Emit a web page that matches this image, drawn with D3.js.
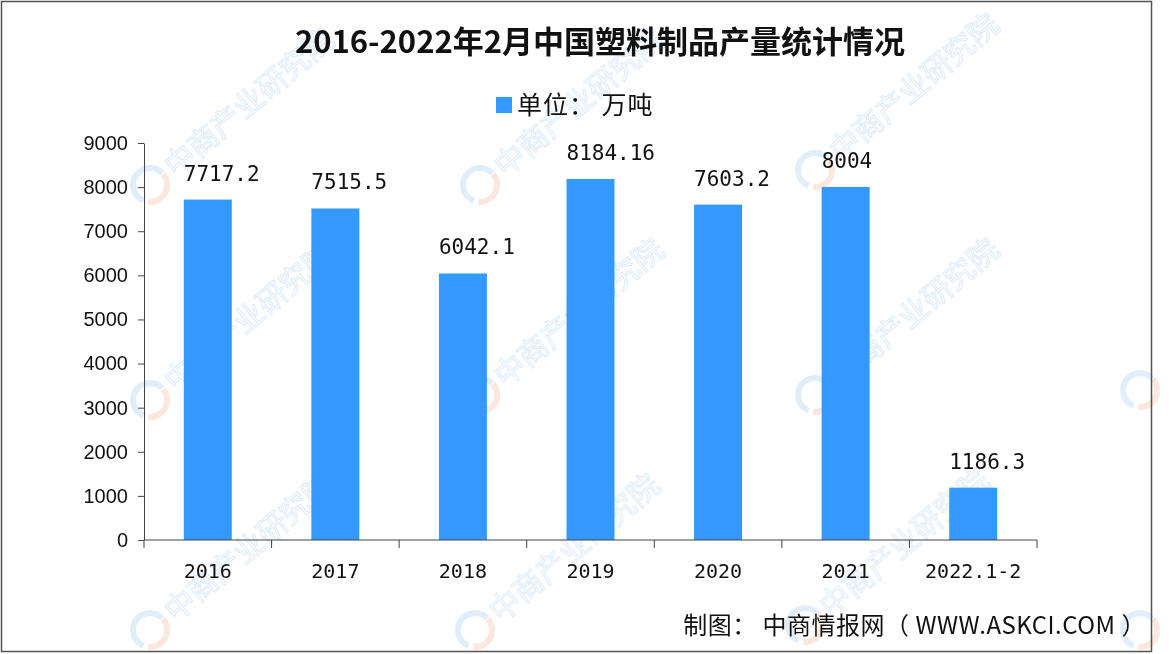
<!DOCTYPE html>
<html>
<head>
<meta charset="utf-8">
<script src="https://cdn.jsdelivr.net/npm/d3@7"></script>
<style>
  body { margin: 0; background: #fff; }
  svg { display: block; }
</style>
</head>
<body>
<div id="chart"></div>
<script>
// data
var years = ["2016", "2017", "2018", "2019", "2020", "2021", "2022.1-2"];
var output = [7717.2, 7515.5, 6042.1, 8184.16, 7603.2, 8004, 1186.3];
var outputLabels = ["7717.2", "7515.5", "6042.1", "8184.16", "7603.2", "8004", "1186.3"];
var yTicks = [0, 1000, 2000, 3000, 4000, 5000, 6000, 7000, 8000, 9000];

var W = 1170, H = 654;
var svg = d3.select("#chart").append("svg")
    .attr("width", W)
    .attr("height", H);

svg.append("rect").attr("width", W).attr("height", H).attr("fill", "#fff");

// watermark, faint (logo only where the text would run off the page)
var marks = [[150, 185, 1], [480, 185, 1], [815, 170, 1], [150, 400, 1], [480, 395, 1], [815, 395, 1], [1140, 390, 0],
             [150, 630, 1], [475, 630, 1], [805, 625, 1], [1140, 630, 0]];
var wm = svg.append("g").attr("opacity", 0.35);
marks.forEach(function(m) {
  var g = wm.append("g").attr("transform", "translate(" + m[0] + "," + m[1] + ") rotate(-40)");
  g.append("circle").attr("r", 17).attr("fill", "none").attr("stroke", "#f2b9a0").attr("stroke-width", 6)
    .attr("stroke-dasharray", "40 70");
  g.append("circle").attr("r", 17).attr("fill", "none").attr("stroke", "#a9cdef").attr("stroke-width", 6)
    .attr("stroke-dasharray", "0 45 60 100");
  if (m[2]) {
    g.append("text").attr("x", 24).attr("y", 11)
      .attr("font-family", "Noto Sans CJK SC").attr("font-size", 30)
      .attr("fill", "none").attr("stroke", "#a9cdef").attr("stroke-width", 1.2)
      .text("中商产业研究院");
  }
});

var x = d3.scaleBand()
    .domain(years)
    .range([144, 1037])
    .paddingInner(0.624)
    .paddingOuter(0.312);

var y = d3.scaleLinear()
    .domain([0, 9000])
    .range([540, 143]);

// bars
svg.selectAll(".bar")
  .data(output)
  .enter().append("rect")
  .attr("class", "bar")
  .attr("x", function(d, i) { return x(years[i]); })
  .attr("y", function(d) { return y(d); })
  .attr("width", x.bandwidth())
  .attr("height", function(d) { return y(0) - y(d); })
  .attr("fill", "#3399ff");

// value labels
svg.selectAll(".val")
  .data(output)
  .enter().append("text")
  .attr("class", "val")
  .attr("x", function(d, i) { return x(years[i]); })
  .attr("y", function(d) { return y(d) - 19; })
  .attr("font-family", "DejaVu Sans Mono")
  .attr("font-size", 21)
  .attr("fill", "#111")
  .text(function(d, i) { return outputLabels[i]; });

// y axis
var yAxis = d3.axisLeft(y).tickValues(yTicks).tickFormat(d3.format("d"))
    .tickSize(6).tickPadding(10).tickSizeOuter(0);
var gY = svg.append("g").attr("transform", "translate(144,0)").call(yAxis);
gY.selectAll("text").attr("font-family", "Liberation Sans").attr("font-size", 20).attr("fill", "#111");
gY.selectAll("line, path").attr("stroke", "#444");

// x axis with ticks on the band edges
var xLine = svg.append("g");
xLine.append("line").attr("x1", 144).attr("x2", 1037).attr("y1", 540).attr("y2", 540).attr("stroke", "#444");
var edges = years.map(function(d) { return x(d) - x.step() * x.paddingInner() / 2; });
edges.push(1037);
xLine.selectAll(".xt").data(edges).enter().append("line")
  .attr("x1", function(d) { return d; }).attr("x2", function(d) { return d; })
  .attr("y1", 540).attr("y2", 548).attr("stroke", "#444");
xLine.selectAll(".xl").data(years).enter().append("text")
  .attr("x", function(d) { return x(d) + x.bandwidth() / 2; })
  .attr("y", 578)
  .attr("text-anchor", "middle")
  .attr("font-family", "DejaVu Sans Mono")
  .attr("font-size", 20)
  .attr("fill", "#111")
  .text(function(d) { return d; });

// title
svg.append("text")
  .attr("x", 600).attr("y", 53)
  .attr("text-anchor", "middle")
  .attr("font-family", "Noto Sans CJK SC")
  .attr("font-weight", "bold")
  .attr("font-size", 31)
  .attr("fill", "#111")
  .text("2016-2022年2月中国塑料制品产量统计情况");

// legend
svg.append("rect").attr("x", 496).attr("y", 97).attr("width", 16).attr("height", 16).attr("fill", "#3399ff");
svg.append("text")
  .attr("x", 517).attr("y", 114)
  .attr("font-family", "Noto Sans CJK SC")
  .attr("font-size", 25)
  .attr("letter-spacing", 1)
  .attr("fill", "#111")
  .text("单位： 万吨");

// source
svg.append("text")
  .attr("x", 1146).attr("y", 634)
  .attr("text-anchor", "end")
  .attr("font-family", "Noto Sans CJK SC")
  .attr("font-size", 24)
  .attr("letter-spacing", 0.5)
  .attr("fill", "#111")
  .text("制图： 中商情报网（ WWW.ASKCI.COM ）");

// frame
svg.append("rect")
  .attr("x", 1.5).attr("y", 1.5).attr("width", 1150).attr("height", 650)
  .attr("fill", "none").attr("stroke", "#555").attr("stroke-width", 1.5);
</script>
</body>
</html>
